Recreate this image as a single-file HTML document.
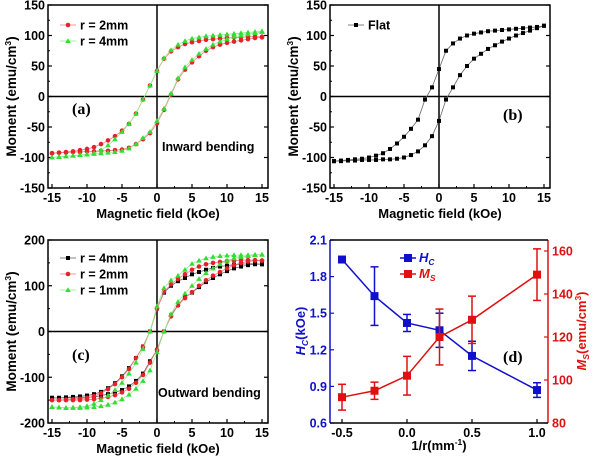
<!DOCTYPE html>
<html><head><meta charset="utf-8"><style>
body{margin:0;background:#fff}
svg{display:block;font-family:"Liberation Sans",Arial,sans-serif;font-weight:bold}
</style></head><body>
<svg id="fig" width="600" height="457" viewBox="0 0 600 457"></svg>
<script>
const H = [-15,-14,-13,-12,-11,-10,-9,-8,-7,-6,-5,-4,-3,-2,-1,0,1,2,3,4,5,6,7,8,9,10,11,12,13,14,15];
// panel a
const a_r2_down = [-93,-92,-91,-90,-88,-86,-83,-78,-72,-65,-56,-45,-28,-5,18,42,62,74,81,86,89,91,93,94,95,96,97,97,98,98,98];
const a_r2_up = [-93,-92,-92,-91,-91,-90,-90,-89,-89,-88,-87,-84,-78,-70,-60,-44,-22,3,28,44,56,66,75,81,85,88,90,92,94,96,97];
const a_r4_down = [-100,-99,-98,-97,-96,-95,-93,-88,-80,-70,-58,-45,-28,-5,18,42,63,76,85,91,95,97,99,100,101,102,103,104,105,106,107];
const a_r4_up = [-100,-99,-98,-97,-96,-95,-94,-93,-92,-91,-89,-85,-78,-68,-58,-40,-20,5,30,48,60,70,78,85,90,94,98,100,102,104,106];
// panel b
const b_flat_down = [-106,-105,-104,-103,-102,-100,-97,-93,-86,-77,-66,-53,-38,-5,15,45,75,87,95,100,103,105,107,108,109,110,111,112,113,114,116];
const b_flat_up = [-106,-106,-105,-105,-104,-104,-104,-103,-103,-102,-100,-96,-90,-80,-65,-40,-5,15,35,50,62,70,78,84,90,95,100,104,108,112,116];
// panel c
const c_r4_down = [-145,-145,-144,-143,-142,-140,-137,-132,-124,-113,-98,-80,-58,-33,0,50,85,100,110,117,125,130,135,139,142,144,146,147,148,148,147];
const c_r4_up = [-145,-145,-145,-145,-145,-144,-143,-140,-137,-133,-128,-120,-108,-92,-65,-40,0,35,58,75,85,97,108,117,125,132,138,142,145,147,147];
const c_r2_down = [-150,-150,-149,-148,-147,-145,-141,-135,-126,-115,-100,-82,-58,-33,0,50,87,103,115,125,135,142,147,150,152,154,155,156,156,156,155];
const c_r2_up = [-150,-150,-150,-150,-150,-149,-148,-146,-143,-139,-133,-125,-112,-95,-68,-40,0,33,57,73,86,100,112,122,130,138,145,150,153,155,155];
const c_r1_down = [-165,-166,-167,-166,-165,-163,-158,-150,-140,-128,-112,-92,-68,-38,0,55,95,112,122,135,148,155,160,163,165,166,167,167,167,168,168];
const c_r1_up = [-165,-166,-167,-167,-167,-166,-165,-163,-160,-155,-148,-138,-125,-108,-85,-45,0,38,65,83,100,115,128,138,147,155,160,163,165,167,168];
// panel d
const d_x = [-0.5,-0.25,0,0.25,0.5,1.0];
const d_hc = [1.94,1.64,1.42,1.36,1.15,0.87];
const d_hc_err = [0.02,0.24,0.07,0.14,0.12,0.06];
const d_ms = [92,95,102,120,128,149];
const d_ms_err = [6,4,9,13,11,12];
const xTicksH = [-15,-10,-5,0,5,10,15];

const svg = document.getElementById('fig');
const NS = 'http://www.w3.org/2000/svg';
function el(tag, attrs, parent, text){
  const e = document.createElementNS(NS, tag);
  for (const k in attrs) e.setAttribute(k, attrs[k]);
  if (text !== undefined) e.textContent = text;
  (parent || svg).appendChild(e);
  return e;
}
function lin(d0,d1,r0,r1){return v=>r0+(v-d0)*(r1-r0)/(d1-d0);}

function marker(g, shape, x, y, color){
  let m;
  if (shape==='sq') m = el('rect',{x:x-2,y:y-2,width:4,height:4,fill:color},g);
  else if (shape==='circ') m = el('circle',{cx:x,cy:y,r:2.3,fill:color},g);
  else m = el('polygon',{points:`${x},${y-2.8} ${x-2.8},${y+2} ${x+2.8},${y+2}`,fill:color},g);
  
  
}

function hystPanel(o){
  const g = el('g',{});
  
  
  const sx = lin(-15,15,o.x0+4,o.x1-6);
  const sy = lin(o.ymin,o.ymax,o.y1,o.y0);
  o.yTicks.forEach((t,i)=>{
    const y = sy(t);
    el('line',{x1:o.x0,y1:y,x2:o.x0+4,y2:y,stroke:'#000','stroke-width':1.2},g);
    el('line',{x1:o.x1,y1:y,x2:o.x1-4,y2:y,stroke:'#000','stroke-width':1.2},g);
    if (i<o.yTicks.length-1){const ym=sy((t+o.yTicks[i+1])/2);
      el('line',{x1:o.x0,y1:ym,x2:o.x0+2,y2:ym,stroke:'#000','stroke-width':1},g);}
    const lab = el('text',{x:o.x0-3,y:y+4.5,'text-anchor':'end','font-size':12.5},g,String(t));
    
    
  });
  xTicksH.forEach((t,i)=>{
    const x = sx(t);
    el('line',{x1:x,y1:o.y1,x2:x,y2:o.y1-4,stroke:'#000','stroke-width':1.2},g);
    if(i<xTicksH.length-1){const xm=sx(t+2.5);
      el('line',{x1:xm,y1:o.y1,x2:xm,y2:o.y1-2,stroke:'#000','stroke-width':1},g);}
    const lab = el('text',{x:x,y:o.y1+14,'text-anchor':'middle','font-size':12.5},g,String(t));
    
    
  });
  el('line',{x1:sx(0),y1:o.y0,x2:sx(0),y2:o.y1,stroke:'#000','stroke-width':1.5},g);
  el('line',{x1:o.x0,y1:sy(0),x2:o.x1,y2:sy(0),stroke:'#000','stroke-width':1.5},g);
  o.series.forEach(s=>{
    const sg = el('g',{},g);
    
    
    [s.down,s.up].forEach(arr=>{
      el('polyline',{points:H.map((h,i)=>sx(h)+','+sy(arr[i])).join(' '),fill:'none',stroke:s.line,'stroke-width':0.8},sg);
      H.forEach((h,i)=>marker(sg,s.shape,sx(h),sy(arr[i]),s.color));
    });
  });
  el('rect',{x:o.x0,y:o.y0,width:o.x1-o.x0,height:o.y1-o.y0,fill:'none',stroke:'#000','stroke-width':1.5},g);
  o.series.forEach((s,i)=>{
    const y = o.legY + i*16;
    el('line',{x1:o.legX,y1:y,x2:o.legX+16,y2:y,stroke:s.line,'stroke-width':0.8},g);
    marker(g,s.shape,o.legX+8,y,s.color);
    const t = el('text',{x:o.legX+20,y:y+4.5,'font-size':12.5},g,s.label);
    
    
  });
  const xl = el('text',{x:(o.x0+o.x1)/2,y:o.y1+30,'text-anchor':'middle','font-size':13},g,'Magnetic field (kOe)');
   
  const yl = el('text',{transform:`translate(${o.ylx},${(o.y0+o.y1)/2}) rotate(-90)`,'text-anchor':'middle','font-size':13.5},g);
   
  yl.innerHTML = 'Moment (emu/cm<tspan dy="-5" font-size="8.5">3</tspan><tspan dy="5">)</tspan>';
  const pl = el('text',{x:o.plx,y:o.ply,'font-size':16,'font-family':'Liberation Serif, serif'},g,o.panel);
   
  if (o.note){const n = el('text',{x:o.nx,y:o.ny,'font-size':12.5},g,o.note);
     }
}

hystPanel({name:'panel-a',x0:48,x1:268,y0:5,y1:188,ymin:-150,ymax:150,yTicks:[-150,-100,-50,0,50,100,150],
  series:[{name:'series-r2mm',label:'r = 2mm',down:a_r2_down,up:a_r2_up,shape:'circ',color:'#e8202a',line:'#f08080'},
          {name:'series-r4mm',label:'r = 4mm',down:a_r4_down,up:a_r4_up,shape:'tri',color:'#33dd33',line:'#90ee90'}],
  legX:60,legY:25,ylx:16,plx:72,ply:114,panel:'(a)',note:'Inward bending',nx:162,ny:151});
hystPanel({name:'panel-b',x0:330,x1:550,y0:5,y1:188,ymin:-150,ymax:150,yTicks:[-150,-100,-50,0,50,100,150],
  series:[{name:'series-flat',label:'Flat',down:b_flat_down,up:b_flat_up,shape:'sq',color:'#000',line:'#666'}],
  legX:348,legY:25,ylx:298,plx:503,ply:120,panel:'(b)'});
hystPanel({name:'panel-c',x0:48,x1:268,y0:240,y1:423,ymin:-200,ymax:200,yTicks:[-200,-100,0,100,200],
  series:[{name:'series-r4mm',label:'r = 4mm',down:c_r4_down,up:c_r4_up,shape:'sq',color:'#000',line:'#666'},
          {name:'series-r2mm',label:'r = 2mm',down:c_r2_down,up:c_r2_up,shape:'circ',color:'#e8202a',line:'#f08080'},
          {name:'series-r1mm',label:'r = 1mm',down:c_r1_down,up:c_r1_up,shape:'tri',color:'#33dd33',line:'#90ee90'}],
  legX:60,legY:258,ylx:16,plx:72,ply:360,panel:'(c)',note:'Outward bending',nx:158,ny:397});

(function(){
  const g = el('g',{});  
  const x0=330,x1=548,y0=240,y1=423;
  const sx = lin(-0.5,1.0,342,537);
  const syL = lin(0.6,2.1,y1,y0);
  const syR = lin(80,160,y1,251);
  const blue='#1010cc', red='#e01010';
  [-0.5,0,0.5,1.0].forEach(t=>{
    el('line',{x1:sx(t),y1:y1,x2:sx(t),y2:y1-4,stroke:'#000','stroke-width':1.2},g);
    const l=el('text',{x:sx(t),y:y1+14,'text-anchor':'middle','font-size':12.5},g,t.toFixed(1));
     
  });
  [0.6,0.9,1.2,1.5,1.8,2.1].forEach(t=>{
    el('line',{x1:x0,y1:syL(t),x2:x0+4,y2:syL(t),stroke:blue,'stroke-width':1.2},g);
    const l=el('text',{x:x0-3,y:syL(t)+4.5,'text-anchor':'end','font-size':12.5,fill:blue},g,t.toFixed(1));
     
  });
  [80,100,120,140,160].forEach(t=>{
    el('line',{x1:x1,y1:syR(t),x2:x1-4,y2:syR(t),stroke:red,'stroke-width':1.2},g);
    const l=el('text',{x:x1+4,y:syR(t)+4.5,'font-size':12.5,fill:red},g,String(t));
     
  });
  function series(vals,errs,sy,color,name){
    const sg=el('g',{},g);  
    el('polyline',{points:d_x.map((x,i)=>sx(x)+','+sy(vals[i])).join(' '),fill:'none',stroke:color,'stroke-width':1.5},sg);
    d_x.forEach((x,i)=>{
      const cx=sx(x), ya=sy(vals[i]-errs[i]), yb=sy(vals[i]+errs[i]);
      el('line',{x1:cx,y1:ya,x2:cx,y2:yb,stroke:color,'stroke-width':1.5},sg);
      el('line',{x1:cx-4,y1:ya,x2:cx+4,y2:ya,stroke:color,'stroke-width':1.5},sg);
      el('line',{x1:cx-4,y1:yb,x2:cx+4,y2:yb,stroke:color,'stroke-width':1.5},sg);
      const r=el('rect',{x:cx-4,y:sy(vals[i])-4,width:8,height:8,fill:color},sg);
       
    });
  }
  series(d_hc,d_hc_err,syL,blue,'series-hc');
  series(d_ms,d_ms_err,syR,red,'series-ms');
  el('line',{x1:x0,y1:y0,x2:x0,y2:y1,stroke:blue,'stroke-width':1.5},g);
  el('line',{x1:x1,y1:y0,x2:x1,y2:y1,stroke:red,'stroke-width':1.5},g);
  el('line',{x1:x0,y1:y1,x2:x1,y2:y1,stroke:'#000','stroke-width':1.5},g);
  el('line',{x1:x0,y1:y0,x2:x1,y2:y0,stroke:'#000','stroke-width':1.5},g);
  [[blue,'H','C',258],[red,'M','S',274]].forEach(l=>{
    el('line',{x1:400,y1:l[3],x2:416,y2:l[3],stroke:l[0],'stroke-width':1.5},g);
    el('rect',{x:404,y:l[3]-4,width:8,height:8,fill:l[0]},g);
    const t=el('text',{x:419,y:l[3]+4,'font-size':13,fill:l[0],'font-style':'italic'},g);
    t.innerHTML=l[1]+'<tspan dy="3" font-size="8.5">'+l[2]+'</tspan>';
     
  });
  const xl=el('text',{x:439,y:450,'text-anchor':'middle','font-size':13},g);
  xl.innerHTML='1/r(mm<tspan dy="-5" font-size="8.5">-1</tspan><tspan dy="5">)</tspan>';
   
  const yl=el('text',{transform:'translate(305,331) rotate(-90)','text-anchor':'middle','font-size':13,fill:blue},g);
  yl.innerHTML='<tspan font-style="italic">H</tspan><tspan dy="3" font-size="8.5" font-style="italic">C</tspan><tspan dy="-3">(kOe)</tspan>';
   
  const yr=el('text',{transform:'translate(586,331) rotate(-90)','text-anchor':'middle','font-size':13,fill:red},g);
  yr.innerHTML='<tspan font-style="italic">M</tspan><tspan dy="3" font-size="8.5" font-style="italic">S</tspan><tspan dy="-3">(emu/cm</tspan><tspan dy="-5" font-size="8.5">3</tspan><tspan dy="5">)</tspan>';
   
  const pl=el('text',{x:503,y:362,'font-size':16,'font-family':'Liberation Serif, serif'},g,'(d)');
   
})();
</script>
</body></html>
